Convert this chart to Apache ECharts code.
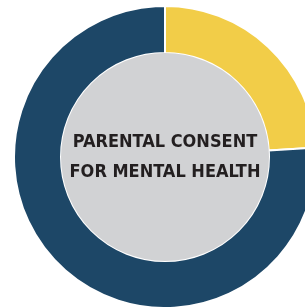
<!DOCTYPE html>
<html>
<head>
<meta charset="utf-8">
<script src="https://cdn.jsdelivr.net/npm/echarts@6/dist/echarts.min.js"></script>
<style>
  html, body { margin: 0; padding: 0; background: #fff; }
  #donut { width: 305px; height: 307px; }
</style>
</head>
<body>
<div id="donut"></div>
<script>
var categories = ['Yes', 'No'];
var values = [24, 76];
var colors = ['#f2cd48', '#1d4767'];
var centerText = 'PARENTAL CONSENT\nFOR MENTAL HEALTH';

function set_donut() {
    var data = [];
    for (var i = 0; i < categories.length; i++) {
        data.push({
            name: categories[i],
            value: values[i],
            itemStyle: { color: colors[i] }
        });
    }
    var option = {
        animation: false,
        series: [
            {
                type: 'pie',
                radius: [104, 151],
                center: [165, 157],
                startAngle: 90,
                clockwise: true,
                sort: null,
                silent: true,
                label: { show: false },
                labelLine: { show: false },
                itemStyle: {
                    borderColor: '#ffffff',
                    borderWidth: 2
                },
                data: data
            },
            {
                type: 'pie',
                radius: [0, 104],
                center: [165, 157],
                silent: true,
                labelLine: { show: false },
                label: {
                    show: true,
                    position: 'center',
                    formatter: centerText,
                    fontFamily: '"DejaVu Sans Condensed", "DejaVu Sans", sans-serif',
                    fontWeight: 'bold',
                    fontSize: 18,
                    lineHeight: 30,
                    color: '#231f20'
                },
                itemStyle: { color: '#d1d2d4' },
                data: [{ name: 'center', value: 1 }]
            }
        ]
    };
    var dom = document.getElementById("donut");
    var myChart = echarts.init(dom);
    myChart.setOption(option, true);
}
window.onload = function () {
    set_donut()
}
</script>
</body>
</html>
